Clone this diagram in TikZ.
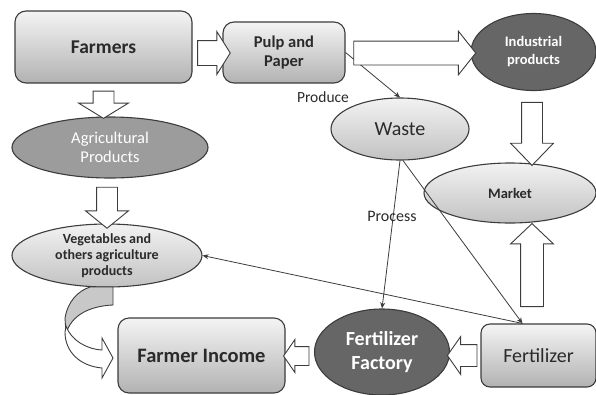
\documentclass[tikz,border=0pt]{standalone}
\usepackage{fontspec}
\setmainfont{Carlito}
\usetikzlibrary{arrows.meta,shapes.geometric,shapes.arrows,calc}
\definecolor{edgegray}{HTML}{3C3C3C}
\definecolor{txtdark}{HTML}{2A2A2A}
\definecolor{boxtop}{HTML}{F4F4F4}
\definecolor{boxbot}{HTML}{B2B2B2}
\definecolor{ovaltop}{HTML}{F2F2F2}
\definecolor{ovalbot}{HTML}{C2C2C2}
\definecolor{midfill}{HTML}{9C9C9C}
\definecolor{darkfill}{HTML}{666666}
\definecolor{backfill}{HTML}{C8C8C8}

\begin{document}
\begin{tikzpicture}[x=1pt,y=-1pt,
  box/.style={draw=edgegray, line width=1.1pt, rounded corners=11pt, top color=boxtop,
    bottom color=boxbot, align=center, text=txtdark, inner sep=0pt},
  oval/.style={ellipse, draw=edgegray, line width=1.1pt, inner sep=0pt, align=center},
  light/.style={oval, top color=ovaltop, bottom color=ovalbot, text=txtdark},
  dark/.style={oval, fill=darkfill, text=white},
  blockarrow/.style={single arrow, draw=edgegray, fill=white, line width=0.9pt},
  link/.style={draw=edgegray, line width=0.8pt, -{Stealth[length=6pt,width=5pt]}},
  tag/.style={text=txtdark, inner sep=0pt}]
  \useasboundingbox (0,0) rectangle (596,394);

  % boxes and ovals
  \node[box, minimum width=177, minimum height=72, font=\fontsize{19.5}{22}\selectfont\bfseries]
    (farmers) at (103.5,47) {Farmers};
  \node[box, minimum width=122, minimum height=61, font=\fontsize{16.5}{19}\selectfont\bfseries]
    (pulp) at (284,52.5) {Pulp and\\Paper};
  \node[dark, minimum width=125, minimum height=77, font=\fontsize{14.5}{18}\selectfont\bfseries]
    (industrial) at (533.5,52) {Industrial\\products};
  \node[oval, fill=midfill, text=white, minimum width=196, minimum height=61,
    font=\fontsize{16.5}{19}\selectfont] (agri) at (110,147.5) {Agricultural\\Products};
  \node[light, minimum width=138, minimum height=62, font=\fontsize{20}{22}\selectfont]
    (waste) at (400,129) {Waste};
  \node[light, minimum width=172, minimum height=60, font=\fontsize{14.5}{17}\selectfont\bfseries]
    (market) at (510,193) {Market};
  \node[light, minimum width=190, minimum height=63, inner sep=-4pt,
    font=\fontsize{14}{16}\selectfont\bfseries]
    (veg) at (107,255.5) {Vegetables and\\others agriculture\\products};
  \node[box, minimum width=167, minimum height=75, font=\fontsize{20.5}{23}\selectfont\bfseries]
    (income) at (201.5,355.5) {Farmer Income};
  \node[dark, minimum width=135, minimum height=86, inner sep=-2pt,
    font=\fontsize{20}{24}\selectfont\bfseries] (factory) at (382,352) {Fertilizer\\Factory};
  \node[box, rounded corners=9pt, minimum width=115, minimum height=63,
    font=\fontsize{20}{22}\selectfont] (fert) at (538.5,355.5) {Fertilizer};

  % thin links
  \coordinate (hub) at ($(fert.north west)+(42,0)$);
  \draw[link] (pulp.east) -- (waste.north);
  \draw[link] (waste.south) -- (factory.north);
  \draw[link] ($(waste.south)+(3,0)$) -- (hub);
  \draw[link] (hub) -- (veg.east);
  \node[tag, font=\fontsize{15.5}{18}\selectfont] (produce) at (323,97) {Produce};
  \node[tag, font=\fontsize{16}{18}\selectfont] (process) at (392,216) {Process};

  % block arrows
  \node[blockarrow, inner sep=12pt, single arrow head extend=9pt, single arrow tip angle=116,
    minimum height=28] (a1) at (210,53) {};
  \node[blockarrow, inner sep=11.5pt, single arrow head extend=10pt, single arrow tip angle=103,
    minimum height=122] (a2) at (410,53) {};
  \node[blockarrow, inner sep=10pt, single arrow head extend=14.5pt, single arrow tip angle=117,
    minimum height=27, shape border rotate=270] (a3) at (103.5,101.5) {};
  \node[blockarrow, inner sep=10pt, single arrow head extend=11pt, single arrow tip angle=102,
    minimum height=41, shape border rotate=270] (a4) at (107,203.5) {};
  \node[blockarrow, inner sep=10pt, single arrow head extend=11pt, single arrow tip angle=88,
    minimum height=63, shape border rotate=270] (a5) at (532,128.5) {};
  \node[blockarrow, inner sep=11pt, single arrow head extend=10pt, single arrow tip angle=93,
    minimum height=83, shape border rotate=90] (a6) at (532,270.5) {};
  \node[blockarrow, inner sep=10.5pt, single arrow head extend=8pt, single arrow tip angle=110,
    minimum height=26, shape border rotate=180] (a7) at (466,355.5) {};
  \node[blockarrow, inner sep=9pt, single arrow head extend=7pt, single arrow tip angle=111,
    minimum height=25, shape border rotate=180] (a8) at (299.5,356) {};

  % curved arrow from veg to income
  \draw[edgegray, line width=0.9pt, fill=backfill]
    (113,287) -- (113,305) .. controls (90,306) and (71,315) .. (66,334)
    -- (65,318) .. controls (68,301) and (78,291) .. (90,287) -- cycle;
  \draw[edgegray, line width=0.9pt, fill=white]
    (66,326) .. controls (71,340) and (86,349) .. (102,350) -- (102,338) -- (113,358)
    -- (102,378) -- (102,368) .. controls (80,366) and (65,352) .. (65,332) -- cycle;
\end{tikzpicture}
\end{document}
